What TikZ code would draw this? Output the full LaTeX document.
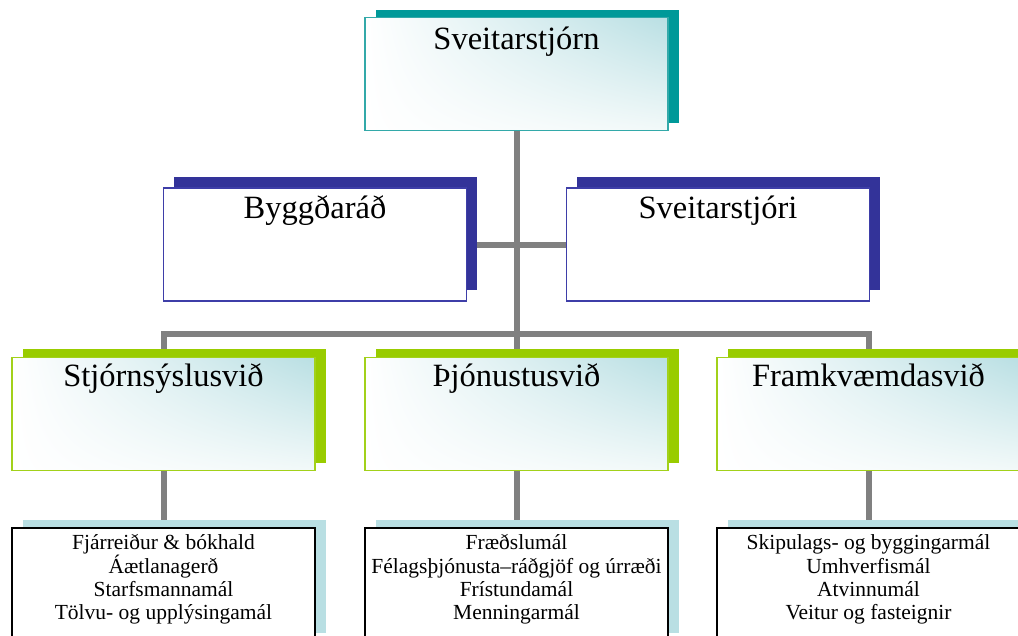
\documentclass[tikz,border=0pt]{standalone}
\usepackage{fontspec}
\setmainfont{Liberation Serif}
\usetikzlibrary{shadows,shadings,backgrounds,calc}
\definecolor{tealS}{HTML}{009999}
\definecolor{tealB}{HTML}{33A9A9}
\definecolor{navyS}{HTML}{333399}
\definecolor{navyB}{HTML}{3E3EA8}
\definecolor{greenS}{HTML}{99CC00}
\definecolor{greenB}{HTML}{A2D11A}
\definecolor{lblue}{HTML}{B9DFE3}
\definecolor{gradC}{HTML}{B9DFE3}
\definecolor{gradL}{HTML}{F2F9F9}
\definecolor{connC}{HTML}{808080}
\newcommand\mylistfont{\fontsize{21.5}{23.3}\selectfont\lineskiplimit=-100pt\relax\lineskip=0pt\relax}
\begin{document}
\begin{tikzpicture}[x=1pt,y=-1pt,
  boxbase/.style={rectangle, minimum width=303pt, minimum height=113pt, inner sep=0pt, line width=1.6pt},
  gradfill/.style={upper left=white, lower left=white, upper right=gradC, lower right=gradL},
  topbox/.style={boxbase, draw=tealB, gradfill, general shadow={fill=tealS, shadow xshift=11pt, shadow yshift=7pt}},
  midbox/.style={boxbase, draw=navyB, fill=white, general shadow={fill=navyS, shadow xshift=10pt, shadow yshift=11pt}},
  divbox/.style={boxbase, draw=greenB, gradfill, general shadow={fill=greenS, shadow xshift=11pt, shadow yshift=8pt}},
  listbox/.style={boxbase, draw=black, fill=white, general shadow={fill=lblue, shadow xshift=11pt, shadow yshift=8pt}},
  headtxt/.style={anchor=base, inner sep=0pt, font=\fontsize{32.5}{38}\selectfont},
  listtxt/.style={anchor=north, inner sep=0pt, align=center, font=\mylistfont},
  conn/.style={draw=connC, line width=6pt, line join=miter}
]
\useasboundingbox (0,0) rectangle (1018,636);
\clip (0,0) rectangle (1018,636);

% top
\node[topbox] (sj) at (516.5,74) {};
\node[headtxt] (sjt) at ($(sj.north)+(0,33)$) {Sveitarstjórn};

% second level
\node[midbox] (bygg) at (315,244.7) {};
\node[headtxt] (byggt) at ($(bygg.north)+(0,31)$) {Byggðaráð};
\node[midbox] (svst) at (718,244.7) {};
\node[headtxt] (svstt) at ($(svst.north)+(0,31)$) {Sveitarstjóri};

% divisions
\node[divbox] (stj) at (163.5,414) {};
\node[headtxt] (stjt) at ($(stj.north)+(0,30)$) {Stjórnsýslusvið};
\node[divbox] (thj) at (516.5,414) {};
\node[headtxt] (thjt) at ($(thj.north)+(0,30)$) {Þjónustusvið};
\node[divbox] (frm) at (868.5,414) {};
\node[headtxt] (frmt) at ($(frm.north)+(0,30)$) {Framkvæmdasvið};

% lists
\node[listbox] (l1) at (163.5,584.5) {};
\node[listtxt] (l1t) at ($(l1.north)+(0,6)$) {\strut Fjárreiður \& bókhald\\Áætlanagerð\\Starfsmannamál\\Tölvu- og upplýsingamál};
\node[listbox] (l2) at (516.5,584.5) {};
\node[listtxt] (l2t) at ($(l2.north)+(0,6)$) {\strut Fræðslumál\\Félagsþjónusta–ráðgjöf og úrræði\\Frístundamál\\Menningarmál};
\node[listbox] (l3) at (868.5,584.5) {};
\node[listtxt] (l3t) at ($(l3.north)+(0,6)$) {\strut Skipulags- og byggingarmál\\Umhverfismál\\Atvinnumál\\Veitur og fasteignir};

% connectors
\coordinate (jL) at (163.5,334);
\coordinate (jM) at (516.5,334);
\coordinate (jR) at (868.5,334);
\begin{scope}[on background layer]
  \draw[conn] (sj.south) -- (jM) -- (thj.north);
  \draw[conn] (bygg.east) -- (svst.west);
  \draw[conn] (stj.north) -- (jL) -- (jR) -- (frm.north);
  \draw[conn] (stj.south) -- (l1.north);
  \draw[conn] (thj.south) -- (l2.north);
  \draw[conn] (frm.south) -- (l3.north);
\end{scope}
\end{tikzpicture}
\end{document}
